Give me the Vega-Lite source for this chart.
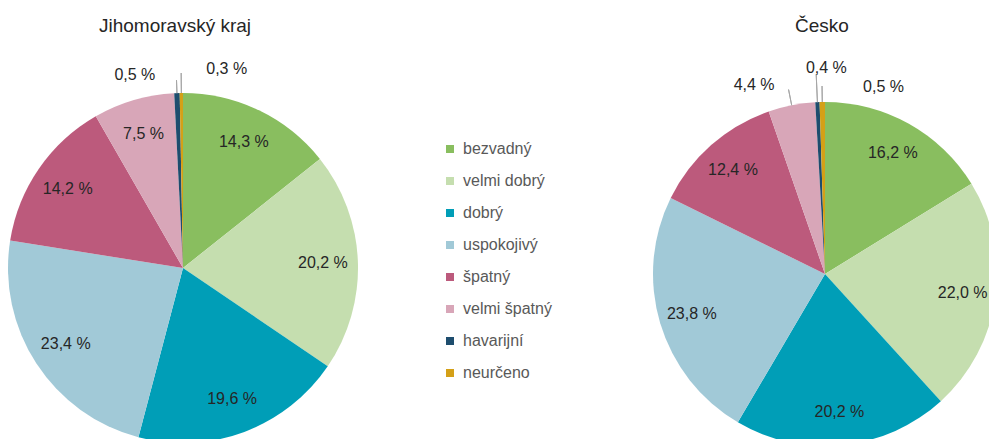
{
  "$schema": "https://vega.github.io/schema/vega-lite/v6.json",
  "background": "white",
  "padding": {"top": 17, "left": 0, "right": 0, "bottom": 0},
  "config": {
    "view": {"stroke": null},
    "font": "Liberation Sans"
  },
  "data": {
    "values": [
      {"region": "Jihomoravský kraj", "i": 1, "cat": "bezvadný", "value": 14.3, "label": "14,3 %"},
      {"region": "Jihomoravský kraj", "i": 2, "cat": "velmi dobrý", "value": 20.2, "label": "20,2 %"},
      {"region": "Jihomoravský kraj", "i": 3, "cat": "dobrý", "value": 19.6, "label": "19,6 %"},
      {"region": "Jihomoravský kraj", "i": 4, "cat": "uspokojivý", "value": 23.4, "label": "23,4 %"},
      {"region": "Jihomoravský kraj", "i": 5, "cat": "špatný", "value": 14.2, "label": "14,2 %"},
      {"region": "Jihomoravský kraj", "i": 6, "cat": "velmi špatný", "value": 7.5, "label": "7,5 %"},
      {"region": "Jihomoravský kraj", "i": 7, "cat": "havarijní", "value": 0.5, "label": "0,5 %"},
      {"region": "Jihomoravský kraj", "i": 8, "cat": "neurčeno", "value": 0.3, "label": "0,3 %"},
      {"region": "Česko", "i": 1, "cat": "bezvadný", "value": 16.2, "label": "16,2 %"},
      {"region": "Česko", "i": 2, "cat": "velmi dobrý", "value": 22.0, "label": "22,0 %"},
      {"region": "Česko", "i": 3, "cat": "dobrý", "value": 20.2, "label": "20,2 %"},
      {"region": "Česko", "i": 4, "cat": "uspokojivý", "value": 23.8, "label": "23,8 %"},
      {"region": "Česko", "i": 5, "cat": "špatný", "value": 12.4, "label": "12,4 %"},
      {"region": "Česko", "i": 6, "cat": "velmi špatný", "value": 4.4, "label": "4,4 %"},
      {"region": "Česko", "i": 7, "cat": "havarijní", "value": 0.4, "label": "0,4 %"},
      {"region": "Česko", "i": 8, "cat": "neurčeno", "value": 0.5, "label": "0,5 %"}
    ]
  },
  "spacing": 287,
  "hconcat": [
    {
      "width": 366,
      "height": 350,
      "title": {"text": "Jihomoravský kraj", "fontSize": 19, "fontWeight": "normal", "color": "#262626", "baseline": "alphabetic", "offset": 10, "dx": -8, "anchor": "middle", "frame": "group"},
      "transform": [{"filter": "datum.region === 'Jihomoravský kraj'"}],
      "encoding": {
        "theta": {"field": "value", "type": "quantitative", "stack": true},
        "order": {"field": "i", "type": "quantitative"},
        "detail": {"field": "cat", "type": "nominal"}
      },
      "layer": [
        {
          "mark": {"type": "arc", "outerRadius": 175},
          "encoding": {
            "color": {
              "field": "cat", "type": "nominal",
              "scale": {
                "domain": ["bezvadný", "velmi dobrý", "dobrý", "uspokojivý", "špatný", "velmi špatný", "havarijní", "neurčeno"],
                "range": ["#89BE5F", "#C5DEAF", "#009EB7", "#A1C9D7", "#BC5A7C", "#D8A6B8", "#1E4D6E", "#D4A017"]
              },
              "legend": {"orient": "none", "legendX": 442, "legendY": 48, "title": null, "padding": 0, "symbolType": "square", "symbolSize": 64, "symbolStrokeWidth": 0, "labelFontSize": 16, "labelColor": "#595959", "labelOffset": 5, "rowPadding": 16, "labelFont": "Liberation Sans"}
            }
          }
        },
        {
          "mark": {"type": "text", "radius": 140, "fontSize": 16, "color": "#262626"},
          "encoding": {"text": {"condition": {"test": "datum.value >= 5", "field": "label", "type": "nominal"}, "value": ""}}
        },
        {
          "transform": [
            {"stack": "value", "groupby": [], "sort": [{"field": "i", "order": "ascending"}], "as": ["s0", "s1"]},
            {"filter": "datum.cat === 'havarijní'"}
          ],
          "mark": {"type": "arc", "outerRadius": 188, "innerRadius": 175, "padAngle": 0.4, "filled": false, "stroke": "#a6a6a6", "strokeWidth": 1},
          "encoding": {"theta": {"field": "s0", "type": "quantitative", "stack": null}, "theta2": {"field": "s1"}}
        },
        {
          "transform": [
            {"stack": "value", "groupby": [], "sort": [{"field": "i", "order": "ascending"}], "as": ["s0", "s1"]},
            {"filter": "datum.cat === 'neurčeno'"}
          ],
          "mark": {"type": "arc", "outerRadius": 195, "innerRadius": 175, "padAngle": 0.4, "filled": false, "stroke": "#a6a6a6", "strokeWidth": 1},
          "encoding": {"theta": {"field": "s0", "type": "quantitative", "stack": null}, "theta2": {"field": "s1"}}
        },
        {
          "transform": [
            {"stack": "value", "groupby": [], "sort": [{"field": "i", "order": "ascending"}], "as": ["s0", "s1"]},
            {"filter": "datum.cat === 'havarijní'"}
          ],
          "mark": {"type": "text", "radius": 193, "align": "right", "dx": -18, "fontSize": 16, "color": "#262626"},
          "encoding": {"theta": {"field": "s0", "type": "quantitative", "stack": null}, "text": {"field": "label", "type": "nominal"}}
        },
        {
          "transform": [
            {"stack": "value", "groupby": [], "sort": [{"field": "i", "order": "ascending"}], "as": ["s0", "s1"]},
            {"filter": "datum.cat === 'neurčeno'"}
          ],
          "mark": {"type": "text", "radius": 199, "align": "left", "dx": 27, "fontSize": 16, "color": "#262626"},
          "encoding": {"theta": {"field": "s0", "type": "quantitative", "stack": null}, "text": {"field": "label", "type": "nominal"}}
        }
      ]
    },
    {
      "width": 344,
      "height": 362,
      "title": {"text": "Česko", "fontSize": 19, "fontWeight": "normal", "color": "#262626", "baseline": "alphabetic", "offset": 9, "dx": -3, "anchor": "middle", "frame": "group"},
      "transform": [{"filter": "datum.region === 'Česko'"}],
      "encoding": {
        "theta": {"field": "value", "type": "quantitative", "stack": true},
        "order": {"field": "i", "type": "quantitative"},
        "detail": {"field": "cat", "type": "nominal"}
      },
      "layer": [
        {
          "mark": {"type": "arc", "outerRadius": 172},
          "encoding": {
            "color": {
              "field": "cat", "type": "nominal",
              "scale": {
                "domain": ["bezvadný", "velmi dobrý", "dobrý", "uspokojivý", "špatný", "velmi špatný", "havarijní", "neurčeno"],
                "range": ["#89BE5F", "#C5DEAF", "#009EB7", "#A1C9D7", "#BC5A7C", "#D8A6B8", "#1E4D6E", "#D4A017"]
              },
              "legend": {"orient": "none", "legendX": 442, "legendY": 48, "title": null, "padding": 0, "symbolType": "square", "symbolSize": 64, "symbolStrokeWidth": 0, "labelFontSize": 16, "labelColor": "#595959", "labelOffset": 5, "rowPadding": 16, "labelFont": "Liberation Sans"}
            }
          }
        },
        {
          "mark": {"type": "text", "radius": 139, "fontSize": 16, "color": "#262626"},
          "encoding": {"text": {"condition": {"test": "datum.value >= 5", "field": "label", "type": "nominal"}, "value": ""}}
        },
        {
          "transform": [
            {"stack": "value", "groupby": [], "sort": [{"field": "i", "order": "ascending"}], "as": ["s0", "s1"]},
            {"filter": "datum.cat === 'velmi špatný' || datum.cat === 'neurčeno'"}
          ],
          "mark": {"type": "arc", "outerRadius": 188, "innerRadius": 172, "padAngle": 0.4, "filled": false, "stroke": "#a6a6a6", "strokeWidth": 1},
          "encoding": {"theta": {"field": "s0", "type": "quantitative", "stack": null}, "theta2": {"field": "s1"}}
        },
        {
          "transform": [
            {"stack": "value", "groupby": [], "sort": [{"field": "i", "order": "ascending"}], "as": ["s0", "s1"]},
            {"filter": "datum.cat === 'havarijní'"}
          ],
          "mark": {"type": "arc", "outerRadius": 200, "innerRadius": 172, "padAngle": 0.4, "filled": false, "stroke": "#a6a6a6", "strokeWidth": 1},
          "encoding": {"theta": {"field": "s0", "type": "quantitative", "stack": null}, "theta2": {"field": "s1"}}
        },
        {
          "transform": [
            {"stack": "value", "groupby": [], "sort": [{"field": "i", "order": "ascending"}], "as": ["s0", "s1"]},
            {"filter": "datum.cat === 'velmi špatný'"}
          ],
          "mark": {"type": "text", "radius": 200, "align": "right", "dx": 15, "fontSize": 16, "color": "#262626"},
          "encoding": {"theta": {"field": "s0", "type": "quantitative", "stack": null}, "text": {"field": "label", "type": "nominal"}}
        },
        {
          "transform": [
            {"stack": "value", "groupby": [], "sort": [{"field": "i", "order": "ascending"}], "as": ["s0", "s1"]},
            {"filter": "datum.cat === 'havarijní'"}
          ],
          "mark": {"type": "text", "radius": 206, "align": "center", "dx": 13, "fontSize": 16, "color": "#262626"},
          "encoding": {"theta": {"field": "s0", "type": "quantitative", "stack": null}, "text": {"field": "label", "type": "nominal"}}
        },
        {
          "transform": [
            {"stack": "value", "groupby": [], "sort": [{"field": "i", "order": "ascending"}], "as": ["s0", "s1"]},
            {"filter": "datum.cat === 'neurčeno'"}
          ],
          "mark": {"type": "text", "radius": 187, "align": "left", "dx": 44, "fontSize": 16, "color": "#262626"},
          "encoding": {"theta": {"field": "s0", "type": "quantitative", "stack": null}, "text": {"field": "label", "type": "nominal"}}
        }
      ]
    }
  ]
}
